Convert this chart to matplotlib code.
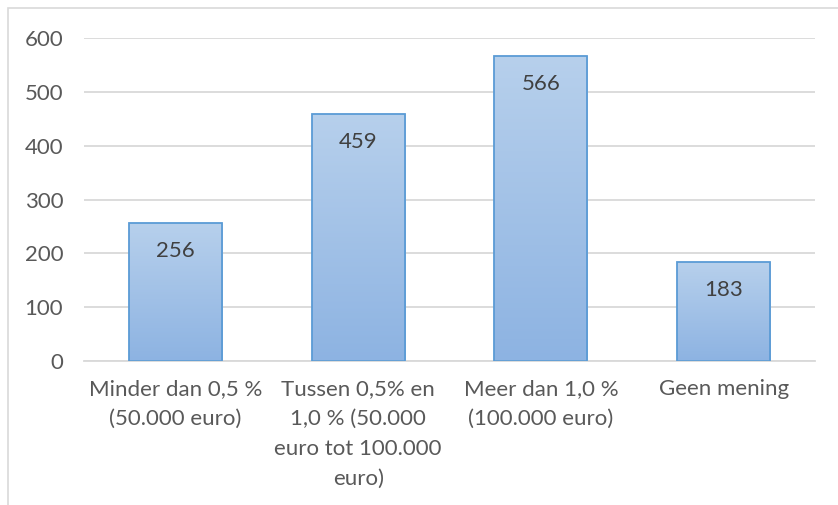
import matplotlib.pyplot as plt
import numpy as np
from matplotlib.patches import Rectangle
from matplotlib.colors import LinearSegmentedColormap

categories = ["Minder dan 0,5 %\n(50.000 euro)",
              "Tussen 0,5% en\n1,0 % (50.000\neuro tot 100.000\neuro)",
              "Meer dan 1,0 %\n(100.000 euro)",
              "Geen mening"]
values = [256, 459, 566, 183]
yticks = [0, 100, 200, 300, 400, 500, 600]

plt.rcParams['font.family'] = ['Lato', 'DejaVu Sans']
W, H = 838, 505
fig = plt.figure(figsize=(W / 100, H / 100), dpi=100)
ax = fig.add_axes([84 / W, (H - 361) / H, (815 - 84) / W, (361 - 38) / H])

# chart frame (cut off at right and bottom like the reference)
fig.patches.append(Rectangle((8 / W, -0.1), 1.0, (H - 8) / H + 0.1,
                             transform=fig.transFigure, fill=False,
                             edgecolor='#d9d9d9', linewidth=1.2))

x = np.arange(len(values))
bars = ax.bar(x, values, width=0.51, color='none', edgecolor='#5b9bd5',
              linewidth=1.3, zorder=3)

grad = np.linspace(0, 1, 256).reshape(-1, 1)
cmap = LinearSegmentedColormap.from_list('g', ['#8db3e2', '#b7d0ec'])
for b in bars:
    x0, w, h = b.get_x(), b.get_width(), b.get_height()
    im = ax.imshow(grad, extent=[x0, x0 + w, 0, h], origin='lower',
                   cmap=cmap, aspect='auto', zorder=2)
    im.set_clip_path(b)

for xi, v in zip(x, values):
    ax.annotate(str(v), (xi, v), xytext=(0, -20), textcoords='offset points',
                ha='center', va='center', fontsize=16, color='#404040',
                zorder=4)

ax.set_xlim(-0.5, len(values) - 0.5)
ax.set_ylim(0, 600)
ax.set_yticks(yticks)
ax.set_xticks(x)
ax.set_xticklabels(categories, linespacing=1.62)
ax.tick_params(axis='both', length=0, labelsize=16, labelcolor='#595959')
ax.tick_params(axis='y', pad=15)
ax.tick_params(axis='x', pad=13)
ax.yaxis.grid(True, color='#d9d9d9', linewidth=1.3, zorder=0)
ax.set_axisbelow(True)
for s in ['top', 'right', 'left']:
    ax.spines[s].set_visible(False)
ax.spines['bottom'].set_color('#d9d9d9')
ax.spines['bottom'].set_linewidth(1.3)

fig.savefig('out.png', dpi=100)
